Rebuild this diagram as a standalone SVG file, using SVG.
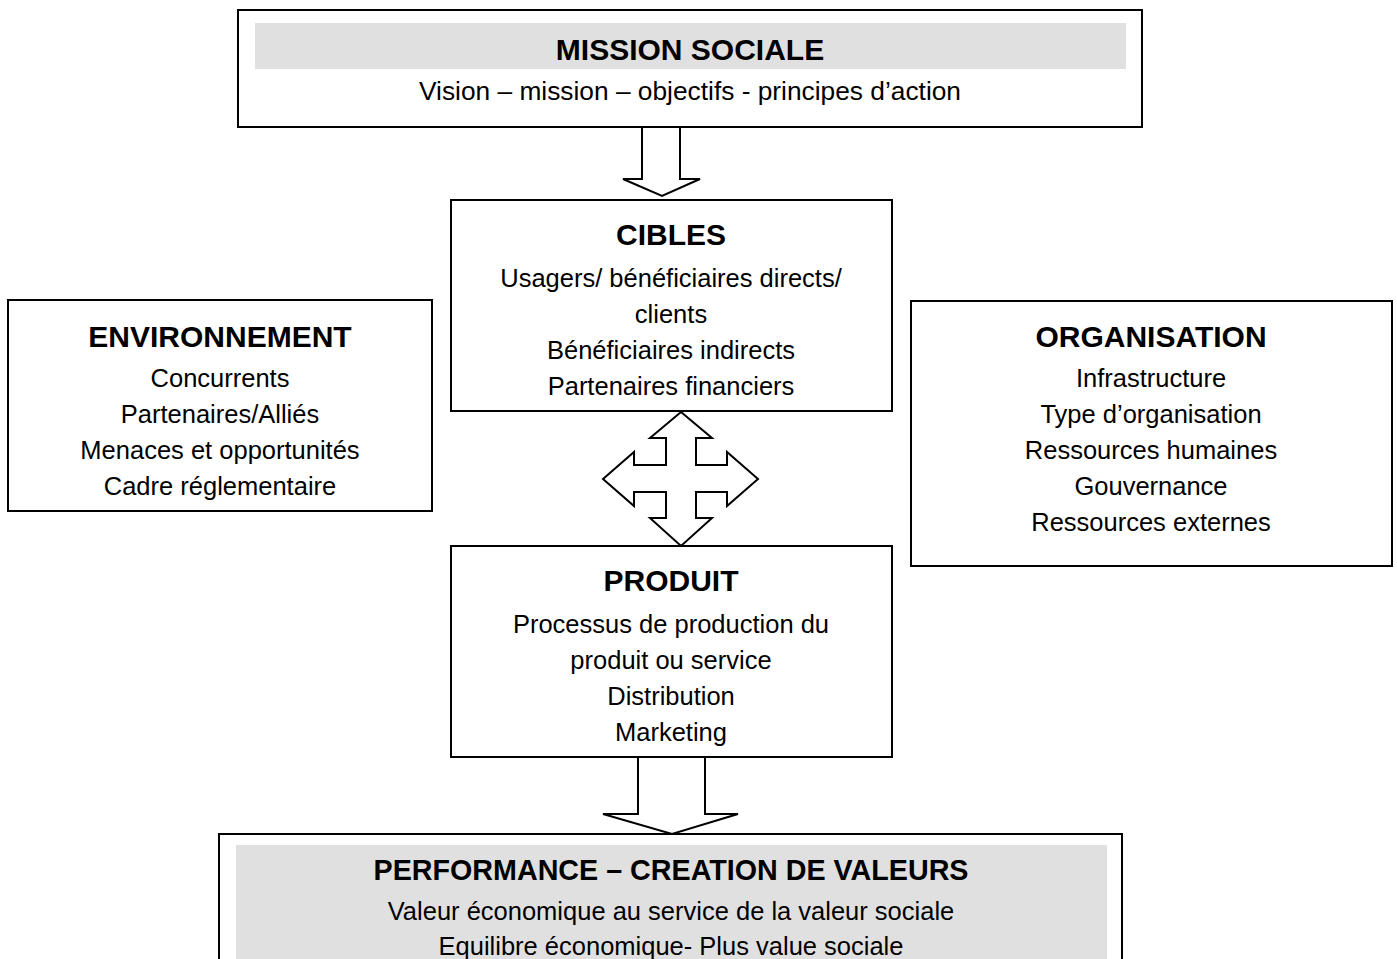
<svg xmlns="http://www.w3.org/2000/svg" width="1397" height="959" viewBox="0 0 1397 959">
<style>
.box{fill:#fff;stroke:#000;stroke-width:2}
.band{fill:#e0e0e0;stroke:none}
.t{font-family:"Liberation Sans",Arial,sans-serif;font-size:30px;font-weight:bold;text-anchor:middle;fill:#000}
.b{font-family:"Liberation Sans",Arial,sans-serif;font-size:25.5px;text-anchor:middle;fill:#000}
.arr{fill:#fff;stroke:#000;stroke-width:2;stroke-linejoin:miter}
</style>
<rect width="1397" height="959" fill="#fff"/>
<g id="mission">
<rect class="box" x="238" y="10" width="904" height="117"/>
<rect class="band" x="255" y="23" width="871" height="46"/>
<text class="t" x="690" y="60">MISSION SOCIALE</text>
<text class="b" x="690" y="100" textLength="542" lengthAdjust="spacingAndGlyphs">Vision – mission – objectifs - principes d’action</text>
</g>
<g id="cibles">
<rect class="box" x="451" y="200" width="441" height="211"/>
<text class="t" x="671" y="245">CIBLES</text>
<text class="b" x="671" y="287">Usagers/ bénéficiaires directs/</text>
<text class="b" x="671" y="323">clients</text>
<text class="b" x="671" y="359">Bénéficiaires indirects</text>
<text class="b" x="671" y="395">Partenaires financiers</text>
</g>
<g id="environnement">
<rect class="box" x="8" y="300" width="424" height="211"/>
<text class="t" x="220" y="347">ENVIRONNEMENT</text>
<text class="b" x="220" y="387">Concurrents</text>
<text class="b" x="220" y="423">Partenaires/Alliés</text>
<text class="b" x="220" y="459">Menaces et opportunités</text>
<text class="b" x="220" y="495">Cadre réglementaire</text>
</g>
<g id="organisation">
<rect class="box" x="911" y="301" width="481" height="265"/>
<text class="t" x="1151" y="347">ORGANISATION</text>
<text class="b" x="1151" y="387">Infrastructure</text>
<text class="b" x="1151" y="423">Type d’organisation</text>
<text class="b" x="1151" y="459">Ressources humaines</text>
<text class="b" x="1151" y="495">Gouvernance</text>
<text class="b" x="1151" y="531">Ressources externes</text>
</g>
<g id="produit">
<rect class="box" x="451" y="546" width="441" height="211"/>
<text class="t" x="671" y="591">PRODUIT</text>
<text class="b" x="671" y="633">Processus de production du</text>
<text class="b" x="671" y="669">produit ou service</text>
<text class="b" x="671" y="705">Distribution</text>
<text class="b" x="671" y="741">Marketing</text>
</g>
<g id="performance">
<rect class="box" x="219" y="834" width="903" height="140"/>
<rect class="band" x="236" y="845" width="871" height="114"/>
<text class="t" x="671" y="880" textLength="595" lengthAdjust="spacingAndGlyphs">PERFORMANCE – CREATION DE VALEURS</text>
<text class="b" x="671" y="920">Valeur économique au service de la valeur sociale</text>
<text class="b" x="671" y="955">Equilibre économique- Plus value sociale</text>
</g>
<g id="connectors">
<polygon class="arr" points="642,127 680,127 680,179 700,179 662,196 623,179 642,179"/>
<polygon class="arr" points="681,412 712,438 696,438 696,465 727,465 727,452 758,479 727,506 727,492 696,492 696,518 712,518 681,546 650,518 666,518 666,492 634,492 634,506 603,479 634,452 634,465 666,465 666,438 650,438"/>
<polygon class="arr" points="638,757 705,757 705,814 738,814 672,834 603,814 638,814"/>
</g>
</svg>
